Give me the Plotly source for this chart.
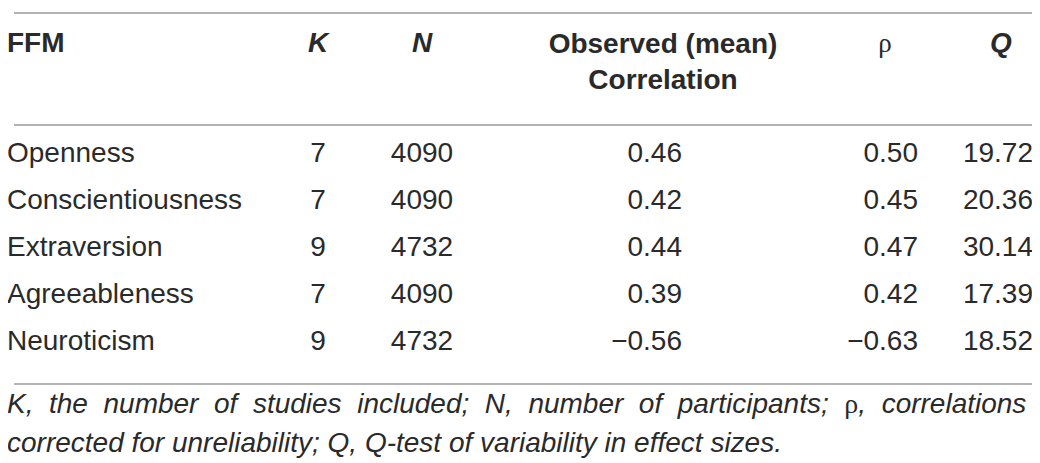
import plotly.graph_objects as go

# Meta-analysis of FFM traits: table values
traits = ["Openness", "Conscientiousness", "Extraversion", "Agreeableness", "Neuroticism"]
k_studies = [7, 7, 9, 7, 9]
n_participants = [4090, 4090, 4732, 4090, 4732]
observed_r = [0.46, 0.42, 0.44, 0.39, -0.56]
rho_corrected = [0.50, 0.45, 0.47, 0.42, -0.63]
q_stat = [19.72, 20.36, 30.14, 17.39, 18.52]

headers = ["FFM", "<b><i>K</i></b>", "<b><i>N</i></b>",
           "Observed (mean)<br>Correlation", "ρ", "<b><i>Q</i></b>"]

footnote_1 = ("<i>K,  the  number  of  studies  included;  N,  number  of  "
              "participants;</i>  <span style='font-family:Liberation Serif'>ρ</span><i>,  correlations</i>")
footnote_2 = "<i>corrected for unreliability; Q, Q-test of variability in effect sizes.</i>"

TEXT = "#2a2a2a"
RULE = "#9b9b9b"
BODY = "Liberation Sans"
SIZE = 28

# layout of the table in pixel units (text anchor pad of plotly is ~8px)
ROW0, ROW_STEP = 147, 47
rows_y = [ROW0 + i * ROW_STEP for i in range(len(traits))]


def fmt(v):
    s = "{:.2f}".format(abs(v))
    return ("\u2212" + s) if v < 0 else s


fig = go.Figure()


def col(x, y, text, pos, size=SIZE, family=BODY, weight="normal"):
    fig.add_trace(go.Scatter(
        x=[x] * len(y), y=y, text=text, mode="text", textposition=pos,
        textfont=dict(family=family, size=size, color=TEXT, weight=weight),
        hoverinfo="skip", showlegend=False))


# body
col(-1, rows_y, traits, "middle right")
col(310, rows_y, [str(v) for v in k_studies], "middle center")
col(414, rows_y, [str(v) for v in n_participants], "middle center")
col(674, rows_y, [fmt(v) for v in observed_r], "middle left")
col(910, rows_y, [fmt(v) for v in rho_corrected], "middle left")
col(1025, rows_y, [fmt(v) for v in q_stat], "middle left")

# header
col(-1, [37], [headers[0]], "middle right", weight="bold")
col(310, [37], [headers[1]], "middle center")
col(414, [37], [headers[2]], "middle center")
col(655, [56], [headers[3]], "middle center", weight="bold")
col(877, [37], [headers[4]], "middle center", size=27, family="Liberation Serif")
col(993, [37], [headers[5]], "middle center")

# footnote
col(-1, [398], [footnote_1], "middle right")
col(-1, [437], [footnote_2], "middle right")

for y in [5, 117, 376]:
    fig.add_shape(type="line", x0=6, x1=1035, y0=y, y1=y, xref="x", yref="y",
                  line=dict(color=RULE, width=1.6))

fig.update_xaxes(range=[0, 1040], visible=False, fixedrange=True)
fig.update_yaxes(range=[463, 0], visible=False, fixedrange=True)
fig.update_layout(width=1040, height=463, margin=dict(l=0, r=0, t=0, b=0),
                  plot_bgcolor="white", paper_bgcolor="white")

fig.write_html("out.html")
